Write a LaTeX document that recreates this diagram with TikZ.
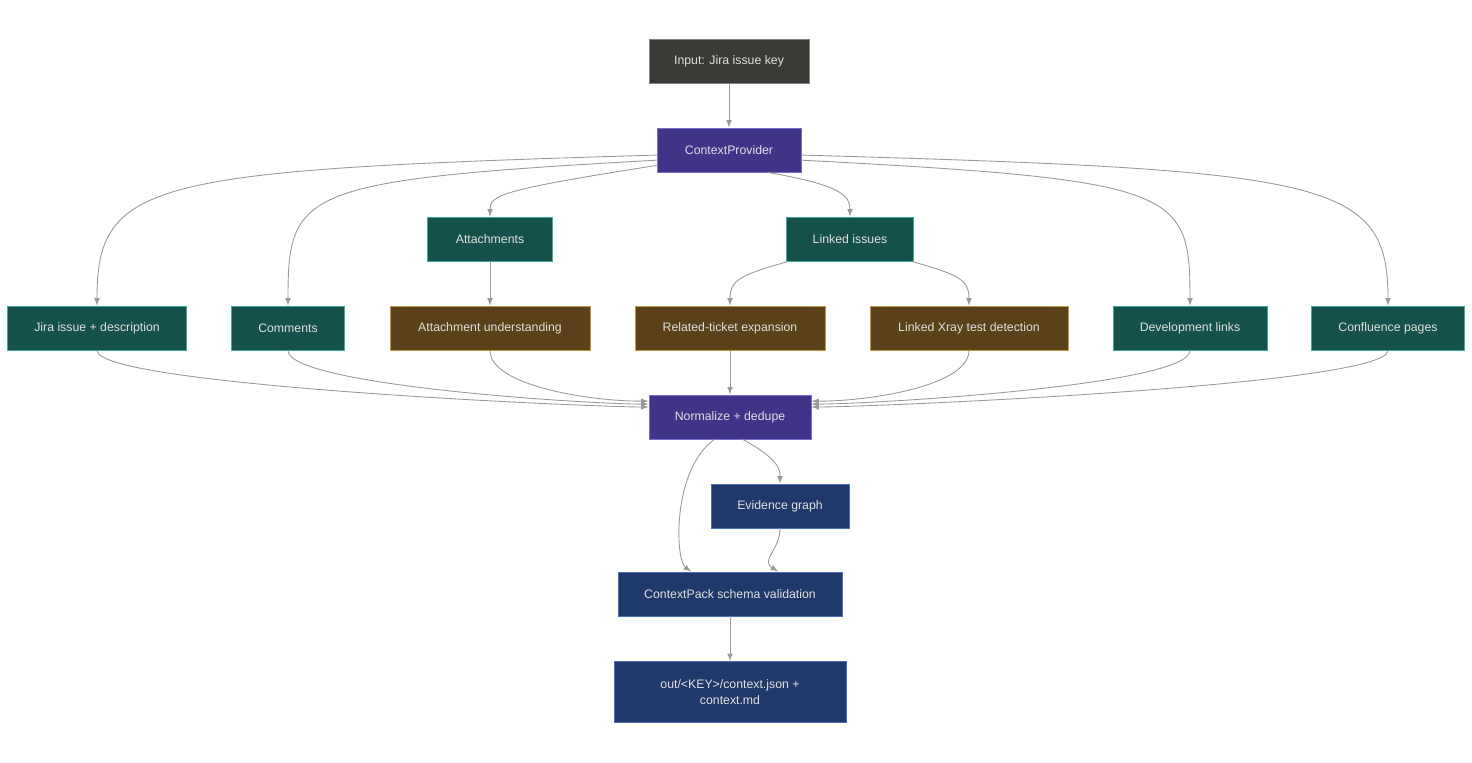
\documentclass[tikz,border=0pt]{standalone}
\usepackage{fontspec}
\setmainfont{Liberation Sans}
\tikzset{>=latex}
\definecolor{inkgray}{HTML}{3A3A36}
\definecolor{inkpurple}{HTML}{3F3488}
\definecolor{inkteal}{HTML}{15504A}
\definecolor{inkbrown}{HTML}{5A4119}
\definecolor{inknavy}{HTML}{1F3A6A}
\definecolor{wire}{HTML}{999999}
\tikzset{
  box/.style={draw,line width=0.5pt,minimum height=0.88cm,text=white!88!black,
    font=\fontsize{7}{9}\selectfont,align=center,inner sep=2pt},
  start/.style={box,fill=inkgray,draw=gray},
  hub/.style={box,fill=inkpurple,draw=HTML7A6FD0},
  source/.style={box,fill=inkteal,draw=HTML3FA89A},
  enrich/.style={box,fill=inkbrown,draw=HTMLC29A45},
  output/.style={box,fill=inknavy,draw=HTML4A6FC0},
  link/.style={->,draw=wire,line width=0.5pt}
}
\definecolor{HTML7A6FD0}{HTML}{7A6FD0}
\definecolor{HTML3FA89A}{HTML}{3FA89A}
\definecolor{HTMLC29A45}{HTML}{C29A45}
\definecolor{HTML4A6FC0}{HTML}{4A6FC0}
\begin{document}
\begin{tikzpicture}[x=0.02cm,y=-0.02cm]
  \useasboundingbox (0,0) rectangle (1472,762);
  % top
  \node[start,minimum width=3.2cm] (key) at (729,61) {Input: Jira issue key};
  \node[hub,minimum width=2.88cm] (provider) at (729,150) {ContextProvider};
  \node[source,minimum width=2.5cm] (attach) at (490,239) {Attachments};
  \node[source,minimum width=2.54cm] (linked) at (850,239) {Linked issues};
  % sources
  \node[source,minimum width=3.58cm] (jira) at (97,328) {Jira issue + description};
  \node[source,minimum width=2.26cm] (comments) at (288,328) {Comments};
  \node[enrich,minimum width=4cm] (understand) at (490,328) {Attachment understanding};
  \node[enrich,minimum width=3.8cm] (related) at (730,328) {Related-ticket expansion};
  \node[enrich,minimum width=3.96cm] (xray) at (969,328) {Linked Xray test detection};
  \node[source,minimum width=3.08cm] (dev) at (1190,328) {Development links};
  \node[source,minimum width=3.06cm] (confluence) at (1388,328) {Confluence pages};
  % merge
  \node[hub,minimum width=3.24cm] (normalize) at (730,417) {Normalize + dedupe};
  \node[output,minimum width=2.76cm] (evidence) at (780,506) {Evidence graph};
  \node[output,minimum width=4.48cm] (pack) at (730,594) {ContextPack schema validation};
  \node[output,minimum width=4.64cm,minimum height=1.22cm] (out) at (730,692) {out/<KEY>/context.json +\\context.md};
  % fan out
  \draw[link] (key) -- (provider);
  \draw[link] (provider.-176) .. controls (150,170) and (97,180) .. (jira);
  \draw[link] (provider.-172) .. controls (300,180) and (288,190) .. (comments);
  \draw[link] (provider.-168) .. controls (500,190) and (490,195) .. (attach);
  \draw[link] (provider.-30) .. controls (840,185) and (850,195) .. (linked);
  \draw[link] (provider.-8) .. controls (1180,180) and (1190,190) .. (dev);
  \draw[link] (provider.-4) .. controls (1330,170) and (1388,180) .. (confluence);
  \draw[link] (attach) -- (understand);
  \draw[link] (linked.-160) .. controls (740,275) and (730,280) .. (related);
  \draw[link] (linked.-20) .. controls (960,275) and (969,280) .. (xray);
  % fan in
  \foreach \src/\dst in {jira/173,comments/171,understand/169}
    \draw[link] (\src.south) .. controls +(0,35) and +(-60,0) .. (normalize.\dst);
  \foreach \src/\dst in {xray/11,dev/9,confluence/7}
    \draw[link] (\src.south) .. controls +(0,35) and +(60,0) .. (normalize.\dst);
  \draw[link] (related) -- (normalize);
  \draw[link] (normalize.-60) .. controls (780,460) and (780,470) .. (evidence);
  \draw[link] (normalize.-125) .. controls (672,470) and (675,560) .. (pack.150);
  \draw[link] (evidence) .. controls (780,550) and (760,560) .. (pack.25);
  \draw[link] (pack) -- (out);
\end{tikzpicture}
\end{document}
